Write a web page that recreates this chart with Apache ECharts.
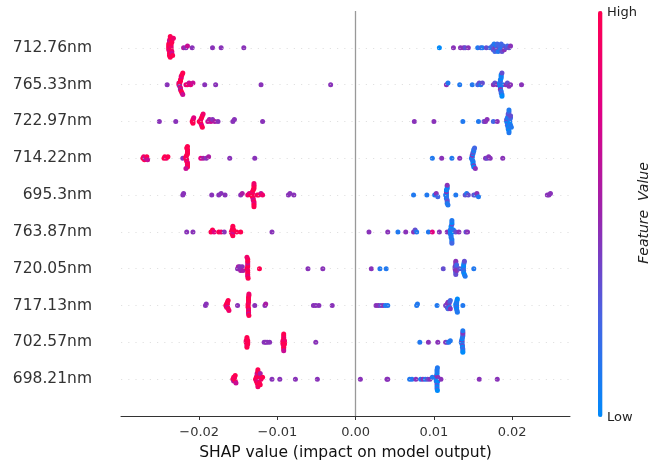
<!DOCTYPE html>
<html>
<head>
<meta charset="utf-8">
<script src="https://cdn.jsdelivr.net/npm/echarts@6/dist/echarts.min.js"></script>
<style>
html,body{margin:0;padding:0;background:#fff;}
#chart{width:668px;height:466px;}
</style>
</head>
<body>
<div id="chart"></div>
<script>
// Feature names, top to bottom
const categories = ['712.76nm','765.33nm','722.97nm','714.22nm','695.3nm','763.87nm','720.05nm','717.13nm','702.57nm','698.21nm'];
const xTicks = [-0.02, -0.01, 0, 0.01, 0.02];

// SHAP values (x 1e-4) and normalised feature values (0 = low/blue ... 9 = high/red), per feature
const s712_76 = [-239,-239,-239,-239,-238,-238,-238,-238,-238,-237,-237,-237,-236,-236,-236,-236,-235,-235,-235,-235,-234,-233,
  -220,-217,-215,-209,-183,-172,-143,
  107,125,134,138,140,144,156,160,162,167,172,
  174,175,176,177,178,179,180,180,181,182,183,184,185,186,187,188,189,190,192,194,196,198];
const f712_76 = [9,9,8,9,7,9,9,6,9,8,9,9,9,7,9,9,8,9,6,9,9,8,
  5,4,6,4,4,4,4,
  0,4,4,4,3,4,1,2,1,3,2,
  1,2,3,1,2,4,1,3,2,1,3,2,1,2,3,1,2,4,3,2,3,4];

const s765_33 = [-241,
  -226,-226,-225,-225,-225,-224,-224,-224,-224,-223,-223,-223,-222,-222,-221,-221,
  -217,-215,-213,-211,-208,
  -193,-179,-121,-32,
  116,118,133,149,156,158,160,162,176,178,181,
  184,184,185,185,185,185,185,186,186,186,186,186,187,187,187,188,
  192,194,196,198,212];
const f765_33 = [4,
  9,6,9,9,4,9,8,9,5,9,9,7,9,9,6,9,
  7,8,6,7,6,
  4,4,4,4,
  4,1,1,1,2,3,1,3,4,3,4,
  1,0,1,2,0,1,4,0,1,1,2,0,1,3,0,1,
  4,3,4,4,4];

const s722_97 = [-251,-230,
  -209,-208,-208,-208,-207,
  -200,-199,-198,-198,-197,-197,-196,-196,-195,
  -189,-187,-185,-183,-180,-176,-157,-155,-119,
  75,100,137,157,164,166,168,176,181,
  193,193,194,194,194,195,195,195,195,196,196,196,196,197,197,197,198,198,198,199];
const f722_97 = [4,4,
  9,8,9,9,7,
  9,9,8,9,9,7,9,9,8,
  6,5,6,4,5,4,4,4,4,
  4,4,1,1,3,4,4,2,4,
  1,3,0,1,2,1,0,3,1,2,0,1,1,3,1,0,2,1,3,1];

const s714_22 = [-272,-271,-270,-269,-267,-266,
  -245,-244,-242,-240,
  -221,
  -217,-217,-216,-216,-216,-215,-215,-215,-215,-215,-215,-215,-215,-216,-217,-215,
  -198,-195,-191,-188,-161,-129,
  98,110,123,133,
  148,149,149,149,149,150,150,150,150,150,151,151,151,151,152,
  153,166,168,170,172,188];
const f714_22 = [9,8,9,5,9,6,
  9,9,8,9,
  4,
  9,9,8,9,9,9,7,9,9,9,8,9,9,9,6,9,
  7,5,4,5,4,4,
  1,4,1,4,
  1,2,0,1,4,1,0,1,3,0,1,4,1,0,2,
  4,4,3,4,4,4];

const s695_3 = [-221,-220,-184,-175,-172,-167,-147,-145,-138,-136,-134,
  -132,-132,-132,-131,-131,-131,-130,-130,-130,-130,-130,-130,-130,-130,
  -126,-124,-121,-119,
  -86,-84,-79,
  74,91,101,103,105,
  115,116,116,116,116,116,116,117,117,117,117,117,117,118,
  128,140,142,144,151,153,155,157,245,247,249];
const f695_3 = [4,4,4,4,4,4,4,5,8,7,9,
  9,9,8,9,9,6,9,9,9,7,9,9,8,9,
  8,9,6,8,
  4,4,4,
  1,1,1,4,2,
  1,3,0,1,4,1,0,2,1,3,0,1,4,1,
  1,3,1,3,3,2,4,1,4,4,4];

const s763_87 = [-216,-208,-185,-183,-181,-175,-172,-168,
  -159,-158,-158,-157,-157,-157,-156,-156,
  -152,-147,-107,
  17,41,54,64,74,76,78,93,98,107,117,
  121,121,121,122,122,122,122,123,123,123,123,123,123,124,125,
  128,132,141,143];
const f763_87 = [4,4,9,9,7,9,8,4,
  9,9,8,9,9,9,6,9,
  9,9,4,
  4,4,1,4,4,3,1,1,7,4,4,
  1,0,1,2,1,0,1,3,1,0,1,1,2,0,1,
  3,4,3,4];

const s720_05 = [-151,-150,-149,-148,-147,-146,-145,-144,
  -139,-138,-138,-138,-138,-138,-138,-138,-138,-138,-137.5,-139,
  -123,-61,-42,
  20,31,39,112,
  127,127,127.5,128,128,128,128,128,128.5,128.5,129,129,
  133,
  137,137.5,138,138,138,138,138.5,139,139,140,
  151];
const f720_05 = [4,5,4,4,5,4,4,5,
  9,9,8,9,9,6,9,9,7,9,9,8,
  9,4,4,
  4,1,1,3,
  4,3,4,4,2,4,3,4,4,3,4,2,
  3,
  1,0,1,2,0,1,1,0,3,1,
  1];

const s717_13 = [-192,-191,
  -166,-165,-165,-164,-164,-164,-164,-163,-163,-162,
  -151,
  -137.5,-137.5,-137.5,-137,-137,-137,-137,-137,-137,-137,-137,-136.5,-136.5,-136.5,
  -129,-116,-115,-54,-51,-47,-30,
  26,29,32,35,38,41,78,79,104,
  115,116,117,117,118,118,119,119,120,120,121,121,
  128,128,128.5,129,129,129,129,129,129.5,129.5,130,130,
  137];
const f717_13 = [4,4,
  9,9,8,9,9,6,9,9,9,8,
  4,
  9,9,9,8,9,9,7,9,9,9,6,9,9,8,
  4,4,5,4,4,4,4,
  4,4,3,4,1,1,1,1,1,
  4,3,4,3,4,2,3,4,1,3,4,2,
  1,0,1,1,0,2,1,0,1,1,0,1,
  1];

const s702_57 = [-140,-140,-139,-139,-139,-139,-139,-138,-138,-138,
  -117,-115,-113,-110,
  -93,-93,-93,-92,-92,-92,-92,-92,-92,-92,-92,-91,-91,-91,
  -51,
  82,93,105,115,117,119,121,
  135,135.5,136,136,136,136,136.5,136.5,136.5,137,137,137,137,137,137,137];
const f702_57 = [9,8,9,9,6,9,9,8,9,9,
  4,4,4,4,
  9,8,9,9,7,9,9,8,9,9,6,9,8,9,
  4,
  1,4,4,4,3,1,1,
  1,0,1,4,1,0,3,1,0,1,2,3,1,4,0,1];

const s698_21 = [-157,-156,-156,-155,-155,-154,-154,-153,
  -128,-127,-127,-126,-126,-126,-125,-125,-125,-125,-124,-124,-124,-123,-123,-122,-122,-121,
  -119,-107,-97,-77,-49,
  6,40,41,69,72,77,83,86,89,92,95,98,
  103,103,103,103.5,104,104,104,104,104,104,104,104.5,104.5,105,105,105,
  109,158,181];
const f698_21 = [9,9,5,9,8,9,9,6,
  9,9,8,9,9,6,9,9,8,9,9,9,7,9,9,5,9,8,
  9,4,4,4,4,
  4,4,4,1,1,4,1,4,1,3,4,1,
  1,0,1,4,1,0,3,1,0,1,2,1,0,1,4,0,
  4,4,4];

// rows in top-to-bottom order matching categories
const rowShap = [s712_76, s765_33, s722_97, s714_22, s695_3, s763_87, s720_05, s717_13, s702_57, s698_21];
const rowFeat = [f712_76, f765_33, f722_97, f714_22, f695_3, f763_87, f720_05, f717_13, f702_57, f698_21];

// beeswarm vertical offsets, same binning rule as shap's summary plot
function swarmOffsets(vals) {
  const n = vals.length;
  const mn = Math.min(...vals), mx = Math.max(...vals);
  const q = vals.map(v => Math.round(100 * (v - mn) / (mx - mn + 1e-8)));
  const idx = vals.map((v, i) => i).sort((a, b) => (q[a] - q[b]) || (a - b));
  const ys = new Array(n).fill(0);
  let layer = 0, last = -1;
  for (const i of idx) {
    if (q[i] !== last) layer = 0;
    ys[i] = Math.ceil(layer / 2) * ((layer % 2) * 2 - 1);
    layer++;
    last = q[i];
  }
  const m = Math.max(...ys) + 1;
  return ys.map(y => y * 0.9 * (0.4 / m));
}

const points = [];
const nRows = categories.length;
rowShap.forEach((vals, r) => {
  const pos = nRows - 1 - r;
  const ys = swarmOffsets(vals);
  const feats = rowFeat[r];
  vals.forEach((v, i) => {
    const f = feats[i] !== undefined ? feats[i] : 4;
    points.push([v / 10000, pos + ys[i], f]);
  });
});

const FONT = 'DejaVu Sans';
const chart = echarts.init(document.getElementById('chart'), null, {renderer: 'canvas'});

const rowLines = categories.map((c, i) => ({yAxis: i}));

const option = {
  animation: false,
  backgroundColor: '#ffffff',
  grid: {left: 121, right: 98, top: 11, bottom: 50},
  xAxis: {
    type: 'value',
    min: -0.03,
    max: 0.0274,
    axisLine: {show: true, onZero: false, lineStyle: {color: '#333333', width: 1}},
    axisTick: {show: true, length: 4, customValues: xTicks, lineStyle: {color: '#333333', width: 1}},
    axisLabel: {
      customValues: xTicks,
      color: '#333333',
      fontSize: 13,
      fontFamily: FONT,
      margin: 10,
      formatter: v => (v < -1e-9 ? '\u2212' : '') + Math.abs(v).toFixed(2)
    },
    splitLine: {show: false},
    name: 'SHAP value (impact on model output)',
    nameLocation: 'middle',
    nameGap: 29,
    nameTextStyle: {color: '#111111', fontSize: 15.5, fontFamily: FONT}
  },
  yAxis: {
    type: 'value',
    min: -1,
    max: 10,
    interval: 1,
    axisLine: {show: false},
    axisTick: {show: false},
    splitLine: {show: false},
    axisLabel: {
      color: '#333333',
      fontSize: 15.5,
      fontFamily: FONT,
      margin: 29,
      formatter: v => {
        const k = Math.round(v);
        if (k < 0 || k > nRows - 1) return '';
        return categories[nRows - 1 - k];
      }
    }
  },
  visualMap: {
    type: 'continuous',
    min: 0,
    max: 9,
    dimension: 2,
    seriesIndex: 1,
    orient: 'vertical',
    left: 598,
    top: 11,
    padding: 0,
    itemWidth: 4.5,
    itemHeight: 406,
    calculable: false,
    hoverLink: false,
    showLabel: false,
    text: null,
    inRange: {color: ['#008afb', '#4963e3', '#9b24ad', '#e00086', '#ff0051']}
  },
  graphic: [
    {type: 'text', left: 607, top: 6, silent: true,
      style: {text: 'High', fill: '#222222', font: '13px "DejaVu Sans"'}},
    {type: 'text', left: 607, top: 411, silent: true,
      style: {text: 'Low', fill: '#222222', font: '13px "DejaVu Sans"'}},
    {type: 'text', x: 644, y: 213, rotation: Math.PI / 2, silent: true,
      style: {text: 'Feature  Value', fill: '#222222', font: 'italic 14px "DejaVu Sans"', align: 'center', verticalAlign: 'middle'}}
  ],
  series: [
    {
      type: 'scatter',
      data: [],
      z: 1,
      silent: true,
      markLine: {
        silent: true,
        symbol: ['none', 'none'],
        label: {show: false},
        animation: false,
        data: rowLines.map(d => Object.assign({}, d, {lineStyle: {color: '#cccccc', width: 0.6, type: [1.2, 6]}}))
          .concat([{xAxis: 0, lineStyle: {color: '#999999', width: 1.3, type: 'solid'}}])
      }
    },
    {
      type: 'scatter',
      z: 3,
      symbol: 'circle',
      symbolSize: 5,
      itemStyle: {opacity: 1, borderWidth: 0},
      data: points
    }
  ]
};
chart.setOption(option);
</script>
</body>
</html>
